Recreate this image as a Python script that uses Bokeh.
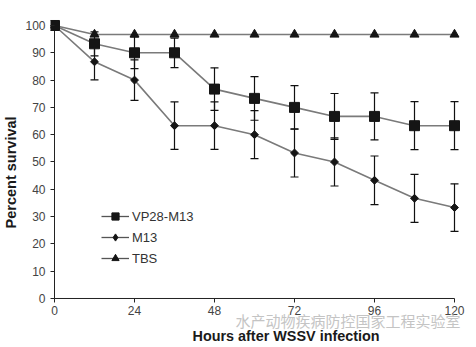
from bokeh.plotting import figure
from bokeh.models import (ColumnDataSource, Whisker, TeeHead, Legend, LegendItem,
                          FixedTicker, Label)
from bokeh.core.properties import value
from bokeh.embed import file_html
from bokeh.resources import INLINE

# ---- data ----
hours = [0, 12, 24, 36, 48, 60, 72, 84, 96, 108, 120]
vp28_m13 = [100, 93.3, 90, 90, 76.7, 73.3, 70, 66.7, 66.7, 63.3, 63.3]
vp28_err = [0, 4.4, 5.8, 5.4, 7.8, 8.0, 8.0, 8.4, 8.6, 8.8, 8.8]
m13 = [100, 86.7, 80, 63.3, 63.3, 60, 53.3, 50, 43.3, 36.7, 33.3]
m13_err = [0, 6.6, 7.4, 8.7, 8.7, 8.8, 8.8, 8.8, 8.9, 8.8, 8.7]
tbs = [100, 96.7, 96.7, 96.7, 96.7, 96.7, 96.7, 96.7, 96.7, 96.7, 96.7]
x_ticks = [0, 24, 48, 72, 96, 120]
x_tick_labels = ["0", "24", "48", "72", "96", "120"]
y_ticks = [0, 10, 20, 30, 40, 50, 60, 70, 80, 90, 100]
series_names = ["VP28-M13", "M13", "TBS"]
x_title = "Hours after WSSV infection"
y_title = "Percent survival"
watermark = "水产动物疾病防控国家工程实验室"

FONT = "Liberation Sans"
LINE_C = "#7a7a7a"
MARK_C = "#151515"
AX_C = "#222222"
NAN = float("nan")

FRAME_W, FRAME_H = 419, 330
X0 = -1.2
X1 = X0 + FRAME_W / (400 / 120)
Y0, Y1 = -17.95, 102.93
PX_PER_Y = FRAME_H / (Y1 - Y0)

p = figure(width=476, height=347, output_backend="svg", toolbar_location=None,
           x_range=(X0, X1), y_range=(Y0, Y1), x_axis_location=None,
           frame_width=FRAME_W, frame_height=FRAME_H,
           min_border_left=49, min_border_right=8, min_border_top=17, min_border_bottom=0)
p.outline_line_color = None
p.grid.visible = False
p.background_fill_color = "white"
p.border_fill_color = "white"

# y axis
ya = p.yaxis[0]
ya.axis_line_color = None
ya.major_tick_in = 4
ya.major_tick_out = 0
ya.minor_tick_line_color = None
ya.major_tick_line_color = AX_C
ya.major_label_text_font = FONT
ya.major_label_text_font_size = "12px"
ya.major_label_text_color = "#444444"
ya.major_label_standoff = 5
ya.ticker = FixedTicker(ticks=y_ticks)
ya.axis_label = "\u00a0" * 5 + y_title
ya.axis_label_text_font = FONT
ya.axis_label_text_font_style = "bold"
ya.axis_label_text_font_size = "14.5px"
ya.axis_label_text_color = "#1a1a1a"
ya.axis_label_standoff = 3

# axis lines at the data origin, x ticks and x tick labels on the data scale
p.line([x_ticks[0], x_ticks[0]], [y_ticks[0], y_ticks[-1]], line_color=AX_C, line_width=1)
p.line([x_ticks[0], x_ticks[-1]], [y_ticks[0], y_ticks[0]], line_color=AX_C, line_width=1)
p.segment(x0=x_ticks, y0=[y_ticks[0]] * len(x_ticks), x1=x_ticks,
          y1=[y_ticks[0] - 4 / PX_PER_Y] * len(x_ticks), line_color=AX_C, line_width=1)
p.text(x=x_ticks, y=[y_ticks[0]] * len(x_ticks), text=x_tick_labels, y_offset=8,
       text_align="center", text_baseline="top", text_font=value(FONT),
       text_font_size="12px", text_color="#444444")

# error bars
def add_err(vals, errs):
    xs = [h for h, e in zip(hours, errs) if e > 0]
    up = [v + e for v, e in zip(vals, errs) if e > 0]
    lo = [v - e for v, e in zip(vals, errs) if e > 0]
    src = ColumnDataSource(dict(x=xs, upper=up, lower=lo))
    w = Whisker(source=src, base="x", upper="upper", lower="lower",
                line_color="#111111", line_width=1.2,
                upper_head=TeeHead(size=8, line_color="#111111", line_width=1.2),
                lower_head=TeeHead(size=8, line_color="#111111", line_width=1.2))
    p.add_layout(w)

add_err(m13, m13_err)
add_err(vp28_m13, vp28_err)

p.line(hours, tbs, line_color=LINE_C, line_width=1.6)
p.scatter(hours, tbs, marker="triangle", size=9, fill_color=MARK_C, line_color=MARK_C)
p.line(hours, m13, line_color=LINE_C, line_width=1.6)
p.scatter(hours, m13, marker="square", angle=0.7854, size=5.6, fill_color=MARK_C, line_color=MARK_C)
p.line(hours, vp28_m13, line_color=LINE_C, line_width=1.6)
p.scatter(hours, vp28_m13, marker="square", size=10, fill_color=MARK_C, line_color=MARK_C)

# legend symbols (smaller, as in the original legend); NaN rows draw nothing in the plot
def leg(marker, size):
    l = p.line("x", "y", source=ColumnDataSource(dict(x=[NAN], y=[NAN])),
               line_color="#555555", line_width=1.3)
    s = p.scatter("x", "y", source=ColumnDataSource(dict(x=[NAN], y=[NAN])), marker=marker,
                  size=size, fill_color=MARK_C, line_color=MARK_C)
    return [l, s]

legend = Legend(items=[LegendItem(label=series_names[0], renderers=leg("square", 7)),
                       LegendItem(label=series_names[1], renderers=leg("diamond", 7)),
                       LegendItem(label=series_names[2], renderers=leg("triangle", 7.5))],
                location=(51, 80), orientation="vertical",
                glyph_width=28, glyph_height=18, spacing=3, padding=0, margin=0,
                label_standoff=3, label_text_font=FONT, label_text_font_size="13px",
                label_text_color="#333333", border_line_color=None,
                background_fill_alpha=0)
p.add_layout(legend)

# watermark and x-axis title (screen offsets from the frame's bottom-left)
p.add_layout(Label(x=185, y=27, x_units="screen", y_units="screen", text=watermark,
                   text_font="Noto Sans CJK SC", text_font_size="15px", text_color="#c4c4c4",
                   text_baseline="middle"))
p.add_layout(Label(x=142, y=12, x_units="screen", y_units="screen", text=x_title,
                   text_font=FONT, text_font_style="bold", text_font_size="14.4px",
                   text_color="#1a1a1a", text_baseline="middle"))

open("out.html", "w").write(file_html(p, INLINE))
